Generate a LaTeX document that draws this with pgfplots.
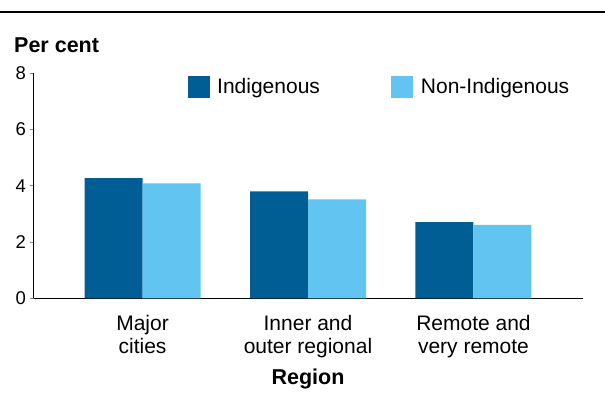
\documentclass[border=0pt]{standalone}
\usepackage{fontspec}
\setmainfont{Liberation Sans}
\usepackage{pgfplots}
\pgfplotsset{compat=1.18}
\definecolor{indig}{RGB}{0,94,149}
\definecolor{nonindig}{RGB}{98,197,241}
\begin{document}
\begin{tikzpicture}[x=1pt,y=1pt,font=\fontsize{21}{24}\selectfont]
\useasboundingbox (0,0) rectangle (605,403);
\draw[line width=2pt] (0,391) -- (605,391);
\node[anchor=west, font=\fontsize{21.5}{24}\selectfont\bfseries, inner sep=0pt] at (14,358) {Per cent};
\begin{axis}[
  at={(33.5pt,104.5pt)}, anchor=south west,
  scale only axis, width=549pt, height=225.5pt,
  xmin=-0.659, xmax=2.659, ymin=0, ymax=8,
  ytick={0,2,4,6,8},
  xtick={0,1,2},
  xticklabels={{Major\\cities},{Inner and\\outer regional},{Remote and\\very remote}},
  xticklabel style={align=center, font=\fontsize{21}{23}\selectfont, yshift=-10pt},
  yticklabel style={font=\fontsize{18.5}{20}\selectfont},
  /pgf/number format/assume math mode=true,
  axis x line*=bottom, axis y line*=left,
  axis line style={-, line width=1pt},
  xtick style={draw=none},
  ytick style={line width=0.8pt},
  ytick align=outside, major tick length=3pt,
  yticklabel style={xshift=-1pt},
  ybar=0pt, bar width=58pt,
  xlabel={Region},
  xlabel style={font=\fontsize{21.5}{24}\selectfont\bfseries, yshift=-4pt},
  legend columns=2,
  legend style={draw=none, fill=none, at={(0.2805,0.938)}, anchor=west,
    inner sep=0pt, nodes={inner sep=3.5pt},
    /tikz/every even column/.append style={column sep=68pt}},
]
\addplot[fill=indig, draw=none, legend image code/.code={\fill[indig] (0pt,-11pt) rectangle (22pt,11pt); \path (26pt,0pt);}]
  coordinates {(0,4.27) (1,3.80) (2,2.71)};
\addlegendentry{Indigenous}
\addplot[fill=nonindig, draw=none, legend image code/.code={\fill[nonindig] (0pt,-11pt) rectangle (22pt,11pt); \path (26pt,0pt);}]
  coordinates {(0,4.08) (1,3.52) (2,2.61)};
\addlegendentry{Non-Indigenous}
\end{axis}
\end{tikzpicture}
\end{document}
